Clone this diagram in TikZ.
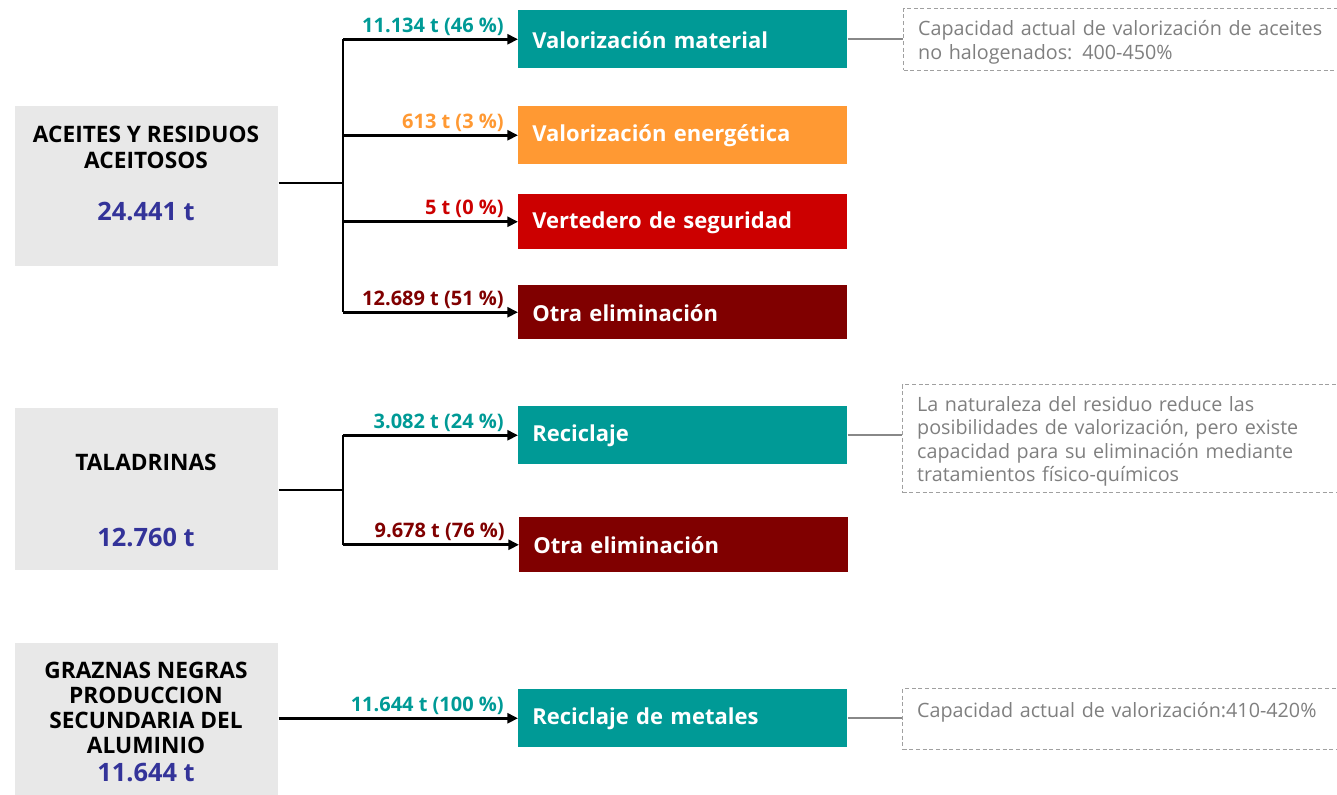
\documentclass[tikz,border=0pt]{standalone}
\usepackage{xcolor}
\usepackage{fontspec}
\setmainfont{Open Sans}
\usetikzlibrary{positioning, arrows.meta}

\definecolor{grisclaro}{HTML}{E8E8E8}
\definecolor{azulcifra}{HTML}{333399}
\definecolor{turquesa}{HTML}{009A96}
\definecolor{naranja}{HTML}{FF9933}
\definecolor{rojo}{HTML}{CC0000}
\definecolor{granate}{HTML}{800000}
\definecolor{textogris}{HTML}{7F7F7F}
\definecolor{bordegris}{HTML}{A0A0A0}
\definecolor{lineagris}{HTML}{888888}

\begin{document}
\begin{tikzpicture}[
    x = 0.75pt, y = -0.75pt,
    origen/.style = {fill=grisclaro, anchor=north west, minimum width=197.25pt, inner sep=0pt},
    titulo/.style = {font=\bfseries\fontsize{17}{20}\selectfont, align=center, inner sep=0pt},
    cifra/.style = {text=azulcifra, font=\bfseries\fontsize{19}{22}\selectfont, inner sep=0pt},
    destino/.style = {
        fill=#1, text=white, anchor=north west,
        minimum width=246.75pt, minimum height=43.5pt, text width=225.75pt,
        inner xsep=10.5pt, inner ysep=0pt, align=left, text height=14pt,
        font=\bfseries\fontsize{16.5}{19}\selectfont
    },
    etiqueta/.style = {text=#1, anchor=base east, inner sep=0pt, xshift=-9.75pt, yshift=5.25pt,
        font=\bfseries\fontsize{15}{18}\selectfont},
    flecha/.style = {-{Triangle[length=8pt, width=7.5pt]}, line width=2pt},
    tronco/.style = {line width=2pt},
    nota/.style = {
        draw=bordegris, dash pattern=on 3pt off 2pt, line width=0.75pt, text=textogris,
        anchor=north west, minimum width=330pt, text width=310pt, inner xsep=11pt,
        align=left, font=\fontsize{14.8}{17.6}\selectfont
    },
    enlace/.style = {draw=lineagris, line width=1.5pt}
  ]
    \clip (0,0) rectangle (1337,795);

    % origenes
    \node[origen, minimum height=120pt] (aceites) at (15,106) {};
    \node[titulo] (aceites-t) at (146,147.5) {ACEITES Y RESIDUOS\\ACEITOSOS};
    \node[cifra] (aceites-n) at (146,211) {24.441 t};

    \node[origen, minimum height=121.5pt] (taladr) at (15,408) {};
    \node[titulo] (taladr-t) at (146,462) {TALADRINAS};
    \node[cifra] (taladr-n) at (146,537) {12.760 t};

    \node[origen, minimum height=114pt] (graznas) at (15,643) {};
    \node[titulo, font=\bfseries\fontsize{17}{18.75}\selectfont] (graznas-t) at (146,707.5)
        {GRAZNAS NEGRAS\\PRODUCCION\\SECUNDARIA DEL\\ALUMINIO};
    \node[cifra] (graznas-n) at (146,773) {11.644 t};

    % destinos
    \node[destino=turquesa] (valmat) at (518,10) {Valorización material};
    \node[destino=naranja] (valene) at (518,106) {Valorización energética};
    \node[destino=rojo, minimum height=41.25pt] (vertedero) at (518,194) {Vertedero de seguridad};
    \node[destino=granate, minimum height=40.5pt] (otra1) at (518,285) {Otra eliminación};
    \node[destino=turquesa] (recic) at (518,406) {Reciclaje};
    \node[destino=granate, minimum height=41.25pt] (otra2) at (519,517) {Otra eliminación};
    \node[destino=turquesa] (recmet) at (518,689) {Reciclaje de metales};

    % notas (cortadas por el borde derecho)
    \node[nota, minimum height=46.5pt, text height=15.5pt] (nota1) at (903,8)
        {Capacidad actual de valorización de aceites\\no halogenados: 400-450\%};
    \node[nota, minimum height=81pt, text height=15.5pt] (nota2) at (902,384)
        {La naturaleza del residuo reduce las\\posibilidades de valorización, pero existe\\capacidad para su eliminación mediante\\tratamientos físico-químicos};
    \node[nota, minimum height=45.75pt, text depth=14pt] (nota3) at (902,688)
        {Capacidad actual de valorización:410-420\%};

    % ramas
    \coordinate (c1) at (343,183);
    \coordinate (c2) at (343,490);

    \draw[tronco] (c1 -| aceites.east) -- (c1);
    \draw[tronco] (c1 |- valmat.west) -- (c1 |- otra1.west);
    \draw[flecha] (c1 |- valmat.west) -- (valmat.west) node[etiqueta=turquesa] {11.134 t (46 \%)};
    \draw[flecha] (c1 |- valene.west) -- (valene.west) node[etiqueta=naranja] {613 t (3 \%)};
    \draw[flecha] (c1 |- vertedero.west) -- (vertedero.west) node[etiqueta=rojo] {5 t (0 \%)};
    \draw[flecha] (c1 |- otra1.west) -- (otra1.west) node[etiqueta=granate] {12.689 t (51 \%)};

    \draw[tronco] (c2 -| taladr.east) -- (c2);
    \draw[tronco] (c2 |- recic.west) -- (c2 |- otra2.west);
    \draw[flecha] (c2 |- recic.west) -- (recic.west) node[etiqueta=turquesa] {3.082 t (24 \%)};
    \draw[flecha] (c2 |- otra2.west) -- (otra2.west) node[etiqueta=granate] {9.678 t (76 \%)};

    \draw[flecha] (recmet.west -| graznas.east) -- (recmet.west) node[etiqueta=turquesa] {11.644 t (100 \%)};

    % enlaces a notas
    \draw[enlace] (valmat.east) -- (valmat.east -| nota1.west);
    \draw[enlace] (recic.east) -- (recic.east -| nota2.west);
    \draw[enlace] (recmet.east) -- (recmet.east -| nota3.west);
\end{tikzpicture}
\end{document}
